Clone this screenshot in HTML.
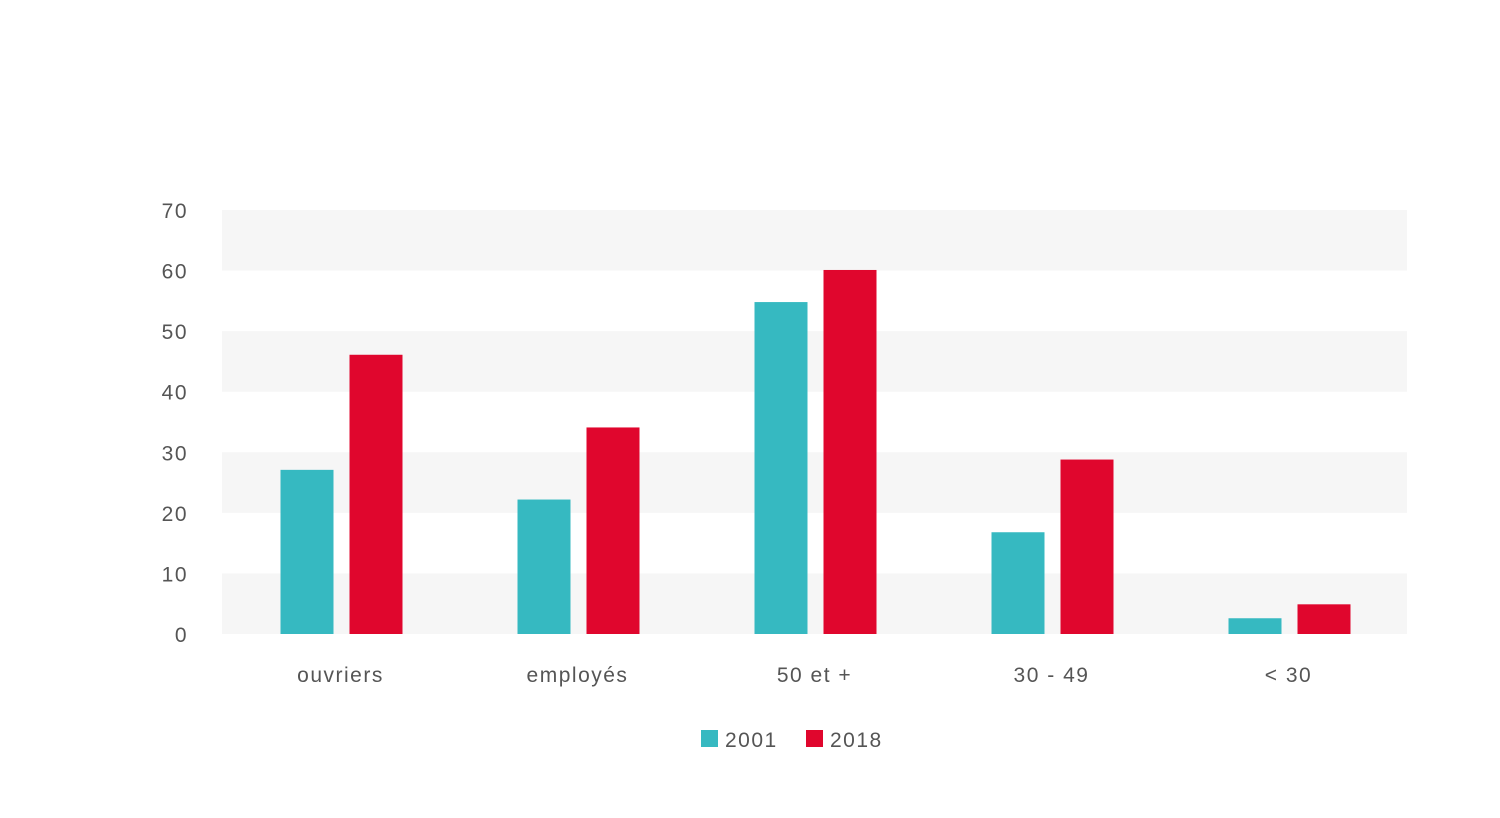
<!DOCTYPE html>
<html><head><meta charset="utf-8"><style>
body{margin:0;background:#fff;width:1500px;height:813px;overflow:hidden;font-family:"Liberation Sans","DejaVu Sans",sans-serif}
svg text{font-family:"Liberation Sans","DejaVu Sans",sans-serif;fill:#555;letter-spacing:1.5px}
</style></head><body>
<svg width="1500" height="813">
<g id="bands"></g><g id="yaxis"></g><g id="bars"></g><g id="xaxis"></g>
<g>
<rect x="701" y="730" width="17" height="17" fill="#36b9c1"/>
<text x="725" y="747" font-size="21">2001</text>
<rect x="806" y="730" width="17" height="17" fill="#e0062d"/>
<text x="830" y="747" font-size="21">2018</text>
</g>
</svg>
<script>
const categories=["ouvriers","employés","50 et +","30 - 49","< 30"];
const series2001=[27.1,22.2,54.8,16.8,2.6];
const series2018=[46.1,34.1,60.1,28.8,4.9];
const yTicks=[0,10,20,30,40,50,60,70];
const NS="http://www.w3.org/2000/svg";
const x0=222,x1=1407,y0=634,y1=210,yMax=70;
const y=v=>y0-(v/yMax)*(y0-y1);
const gw=(x1-x0)/categories.length;
const cx=i=>x0+gw*(i+0.5);
function mk(t,a,p){const e=document.createElementNS(NS,t);for(const k in a)e.setAttribute(k,a[k]);p.appendChild(e);return e;}
const bands=document.getElementById('bands'),ya=document.getElementById('yaxis'),bars=document.getElementById('bars'),xa=document.getElementById('xaxis');
for(let i=0;i<yTicks.length-1;i+=2){
 const r=mk('rect',{x:x0,y:y(yTicks[i+1]),width:x1-x0,height:y(yTicks[i])-y(yTicks[i+1]),fill:'#f6f6f6'},bands);
 
 
}
yTicks.forEach(v=>{
 const t=mk('text',{x:188,y:y(v)+8,'text-anchor':'end','font-size':21},ya);t.textContent=v;
 
 
});
categories.forEach((c,i)=>{
 const a=mk('rect',{x:cx(i)-60,y:y(series2001[i]),width:53,height:y0-y(series2001[i]),fill:'#36b9c1'},bars);
 
 
 const b=mk('rect',{x:cx(i)+9,y:y(series2018[i]),width:53,height:y0-y(series2018[i]),fill:'#e0062d'},bars);
 
 
 const t=mk('text',{x:cx(i),y:682,'text-anchor':'middle','font-size':21},xa);t.textContent=c;
 
 
});
</script>
</body></html>
